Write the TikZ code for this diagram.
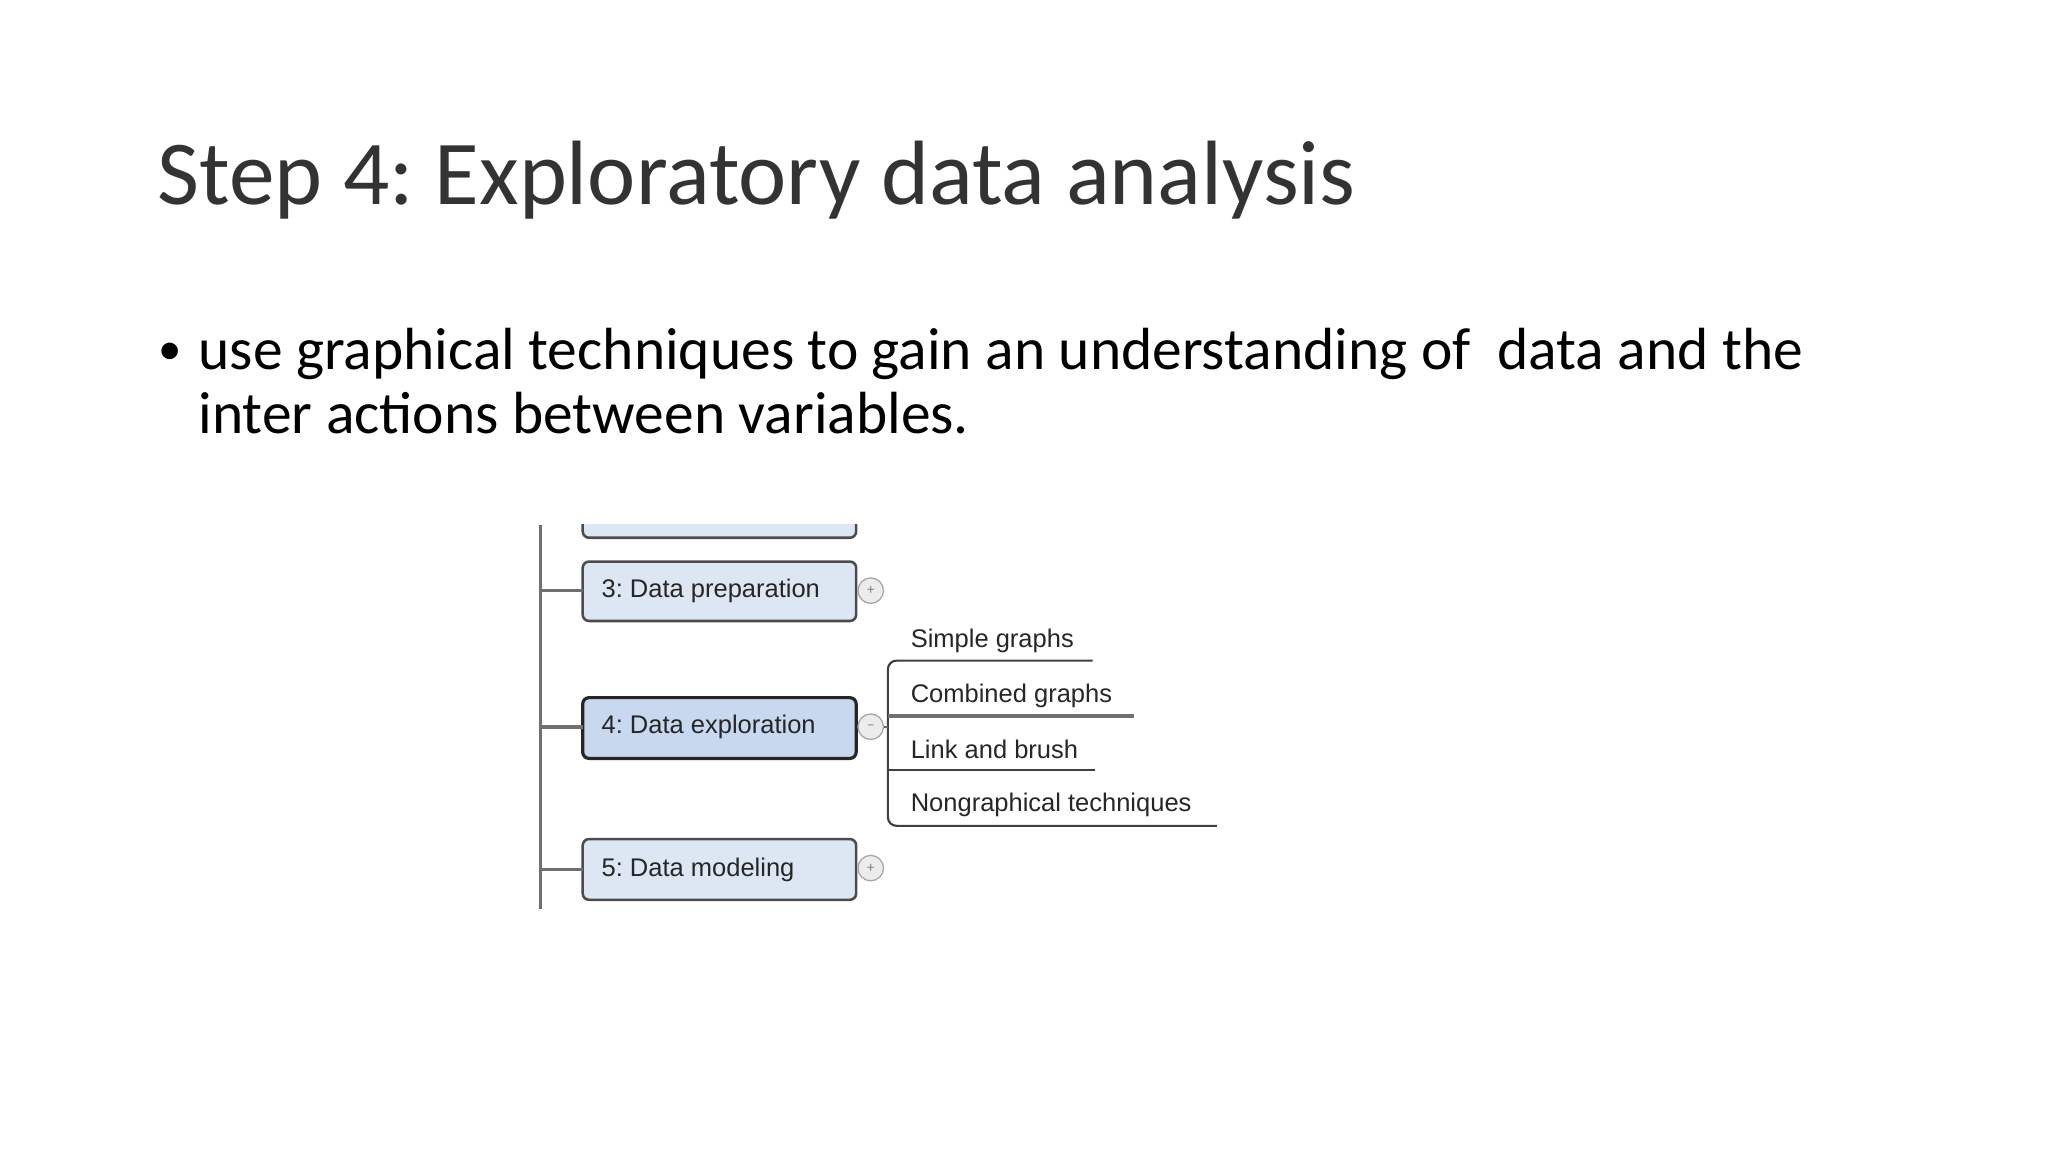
\documentclass[tikz,border=0pt]{standalone}
\usepackage{fontspec}
\setmainfont{Carlito}
\newfontfamily\diag{Liberation Sans}
\definecolor{boxfill}{HTML}{DDE7F4}
\definecolor{boxfillsel}{HTML}{C8D8EE}
\definecolor{linegray}{HTML}{707070}
\frenchspacing
\begin{document}
\begin{tikzpicture}[x=0.02185cm,y=-0.02185cm,
  mbox/.style={draw=black!70,line width=1.2pt,rounded corners=3pt,fill=boxfill},
  lbl/.style={font=\diag\fontsize{12}{14}\selectfont,text=black!85,anchor=west,inner sep=0},
  conn/.style={draw=linegray,line width=1.3pt},
  knob/.style={circle,draw=gray!70,fill=gray!15,line width=0.6pt,minimum size=12pt,inner sep=0,font=\scriptsize,text=gray}]
\useasboundingbox (0,0) rectangle (1550,872);
\node[anchor=base west,inner sep=0,font=\fontsize{43}{50}\selectfont,text=black!80] (title) at (119,155) {Step 4: Exploratory data analysis};
\node[anchor=base west,inner sep=0,font=\fontsize{22}{34}\selectfont] (bul) at (120,276) {\textbullet};
\node[anchor=base west,inner sep=0,font=\fontsize{28}{34}\selectfont,align=left] (txt) at (150,280) {use graphical techniques to gain an understanding of\ \ data and the};
\node[anchor=base west,inner sep=0,font=\fontsize{28}{34}\selectfont] (txt2) at (150,328) {inter actions between variables.};
% spine
\coordinate (top) at (409,397);
\coordinate (bot) at (409,688);
\draw[conn] (top) -- (bot);
\begin{scope}
\clip (430,397) rectangle (660,420);
\draw[mbox] (441,360) rectangle (648,407);
\end{scope}
\draw[mbox] (441,425) rectangle (648,470);
\draw[mbox,fill=boxfillsel,draw=black!85,line width=1.5pt] (441,528) rectangle (648,574);
\draw[mbox] (441,635) rectangle (648,681);
\node[lbl] (b3) at (455,447) {3: Data preparation};
\node[lbl] (b4) at (455,550) {4: Data exploration};
\node[lbl] (b5) at (455,658) {5: Data modeling};
\coordinate (j3) at (409,447); \coordinate (j4) at (409,550); \coordinate (j5) at (409,658);
\coordinate (e3) at (441,447); \coordinate (e4) at (441,550); \coordinate (e5) at (441,658);
\draw[conn] (j3) -- (e3); \draw[conn,line width=2pt] (j4) -- (e4); \draw[conn] (j5) -- (e5);
\node[knob] (k3) at (659,447) {+};
\node[knob] (k4) at (659,550) {--};
\node[knob] (k5) at (659,657) {+};
% children
\draw[conn,draw=black!75,line width=1pt,rounded corners=4pt] (827,500) -- (672,500) -- (672,625) -- (921,625);
\draw[conn,draw=black!75,line width=1pt,rounded corners=4pt] (829,583) -- (672,583);
\draw[conn,line width=2.2pt] (858,542) -- (672,542);
\draw[conn,draw=black!60,line width=1pt] (k4) -- (672,550);
\node[lbl] (c1) at (689,485) {Simple graphs};
\node[lbl] (c2) at (689,527) {Combined graphs};
\node[lbl] (c3) at (689,567) {Link and brush};
\node[lbl] (c4) at (689,609) {Nongraphical techniques};
\end{tikzpicture}
\end{document}
